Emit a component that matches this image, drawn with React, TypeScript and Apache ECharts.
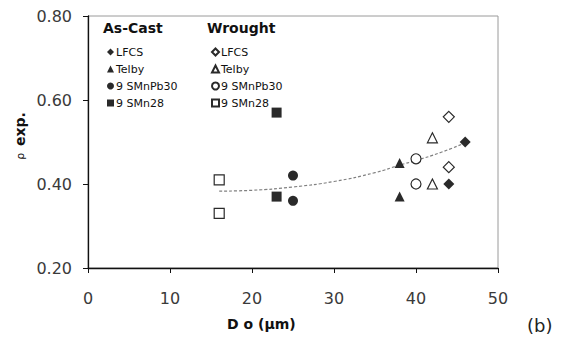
import React, { useEffect, useRef } from "react";
import * as echarts from "echarts";

// Grain size (µm) vs ρ exp., as-cast (filled) and wrought (open) steels
const asCastLFCS: [number, number][] = [[46, 0.5], [44, 0.4]];
const asCastTelby: [number, number][] = [[38, 0.45], [38, 0.37]];
const asCast9SMnPb30: [number, number][] = [[25, 0.42], [25, 0.36]];
const asCast9SMn28: [number, number][] = [[23, 0.57], [23, 0.37]];

const wroughtLFCS: [number, number][] = [[44, 0.56], [44, 0.44]];
const wroughtTelby: [number, number][] = [[42, 0.51], [42, 0.4]];
const wrought9SMnPb30: [number, number][] = [[40, 0.46], [40, 0.4]];
const wrought9SMn28: [number, number][] = [[16, 0.41], [16, 0.33]];

// Trend curve through the data
const trendX = [16, 20, 25, 30, 35, 38, 40, 43, 46];
const trendY = [0.383, 0.385, 0.393, 0.406, 0.427, 0.445, 0.456, 0.475, 0.498];

const yTicks = [0.2, 0.4, 0.6, 0.8];
const xTicks = [0, 10, 20, 30, 40, 50];

const FONT = "DejaVu Sans";
const DARK = "#2a2a2a";

type Grp = { name: string; symbol: string; data: [number, number][]; open: boolean };

const groups: Grp[] = [
  { name: "A|LFCS", symbol: "diamond", data: asCastLFCS, open: false },
  { name: "A|Telby", symbol: "triangle", data: asCastTelby, open: false },
  { name: "A|9 SMnPb30", symbol: "circle", data: asCast9SMnPb30, open: false },
  { name: "A|9 SMn28", symbol: "rect", data: asCast9SMn28, open: false },
  { name: "W|LFCS", symbol: "diamond", data: wroughtLFCS, open: true },
  { name: "W|Telby", symbol: "triangle", data: wroughtTelby, open: true },
  { name: "W|9 SMnPb30", symbol: "circle", data: wrought9SMnPb30, open: true },
  { name: "W|9 SMn28", symbol: "rect", data: wrought9SMn28, open: true },
];

const symSize: Record<string, number> = { diamond: 11, triangle: 10, circle: 10, rect: 10 };

export default function App() {
  const ref = useRef<HTMLDivElement>(null);

  useEffect(() => {
    if (!ref.current) return;
    const chart = echarts.init(ref.current, undefined, { renderer: "svg" });

    const legendBase = {
      orient: "vertical" as const,
      top: 41,
      itemWidth: 7,
      itemHeight: 7,
      itemGap: 5,
      selectedMode: false,
      formatter: (n: string) => n.slice(2),
      textStyle: { fontFamily: FONT, fontSize: 11, color: "#111", lineHeight: 12, padding: [0, 0, 0, -3] },
    };

    chart.setOption({
      animation: false,
      grid: {
        left: 88,
        right: 70,
        top: 16,
        bottom: 77,
        show: true,
        borderColor: "#9a9a9a",
        borderWidth: 1,
      },
      xAxis: {
        type: "value",
        min: 0,
        max: 50,
        interval: 10,
        axisLine: { show: true, lineStyle: { color: "#111", width: 1.3 } },
        axisTick: { show: true, inside: false, length: 5, lineStyle: { color: "#111" } },
        axisLabel: {
          margin: 22,
          fontFamily: FONT,
          fontSize: 16,
          color: "#3a3a3a",
          formatter: (v: number) => (xTicks.includes(v) ? String(v) : ""),
        },
        splitLine: { show: false },
      },
      yAxis: {
        type: "value",
        min: 0.2,
        max: 0.8,
        interval: 0.2,
        axisLine: { show: true, lineStyle: { color: "#111", width: 1.3 } },
        axisTick: { show: true, inside: false, length: 5, lineStyle: { color: "#111" } },
        axisLabel: {
          margin: 16,
          fontFamily: FONT,
          fontSize: 16,
          color: "#3a3a3a",
          formatter: (v: number) =>
            yTicks.some((t) => Math.abs(t - v) < 1e-9) ? v.toFixed(2) : "",
        },
        splitLine: { show: false },
      },
      legend: [
        { ...legendBase, left: 102, data: groups.filter((g) => !g.open).map((g) => g.name) },
        { ...legendBase, left: 206, data: groups.filter((g) => g.open).map((g) => g.name) },
      ],
      graphic: [
        {
          type: "text",
          left: 103,
          top: 21,
          style: { text: "As-Cast", font: `bold 14px "${FONT}"`, fill: "#111" },
        },
        {
          type: "text",
          left: 207,
          top: 21,
          style: { text: "Wrought", font: `bold 14px "${FONT}"`, fill: "#111" },
        },
        {
          type: "text",
          x: 20,
          y: 136,
          rotation: Math.PI / 2,
          style: {
            text: "{r|ρ}  {b|exp.}",
            align: "center",
            verticalAlign: "middle",
            rich: {
              r: { fontFamily: FONT, fontSize: 11, fill: "#111" },
              b: { fontFamily: FONT, fontSize: 14, fontWeight: "bold", fill: "#111" },
            },
          },
        },
        {
          type: "text",
          left: 227,
          top: 317,
          style: { text: "D o (µm)", font: `bold 14px "${FONT}"`, fill: "#111" },
        },
        {
          type: "text",
          left: 527,
          top: 316,
          style: { text: "(b)", font: `18px "${FONT}"`, fill: "#222" },
        },
      ],
      series: [
        ...groups.map((g) => ({
          name: g.name,
          type: "scatter",
          symbol: g.symbol,
          symbolSize: symSize[g.symbol],
          data: g.data,
          z: 3,
          itemStyle: g.open
            ? { color: "#fff", borderColor: DARK, borderWidth: 1.2, opacity: 1 }
            : { color: DARK, borderColor: DARK, borderWidth: 0, opacity: 1 },
        })),
        {
          name: "trend",
          type: "line",
          data: trendX.map((x, i) => [x, trendY[i]]),
          smooth: true,
          showSymbol: false,
          symbol: "none",
          z: 2,
          lineStyle: { color: "#808080", width: 1.2, type: [3, 2] },
        },
      ],
    });

    return () => chart.dispose();
  }, []);

  return (
    <div
      ref={ref}
      style={{ position: "fixed", left: 0, top: 0, width: 568, height: 345, background: "#fff" }}
    />
  );
}
